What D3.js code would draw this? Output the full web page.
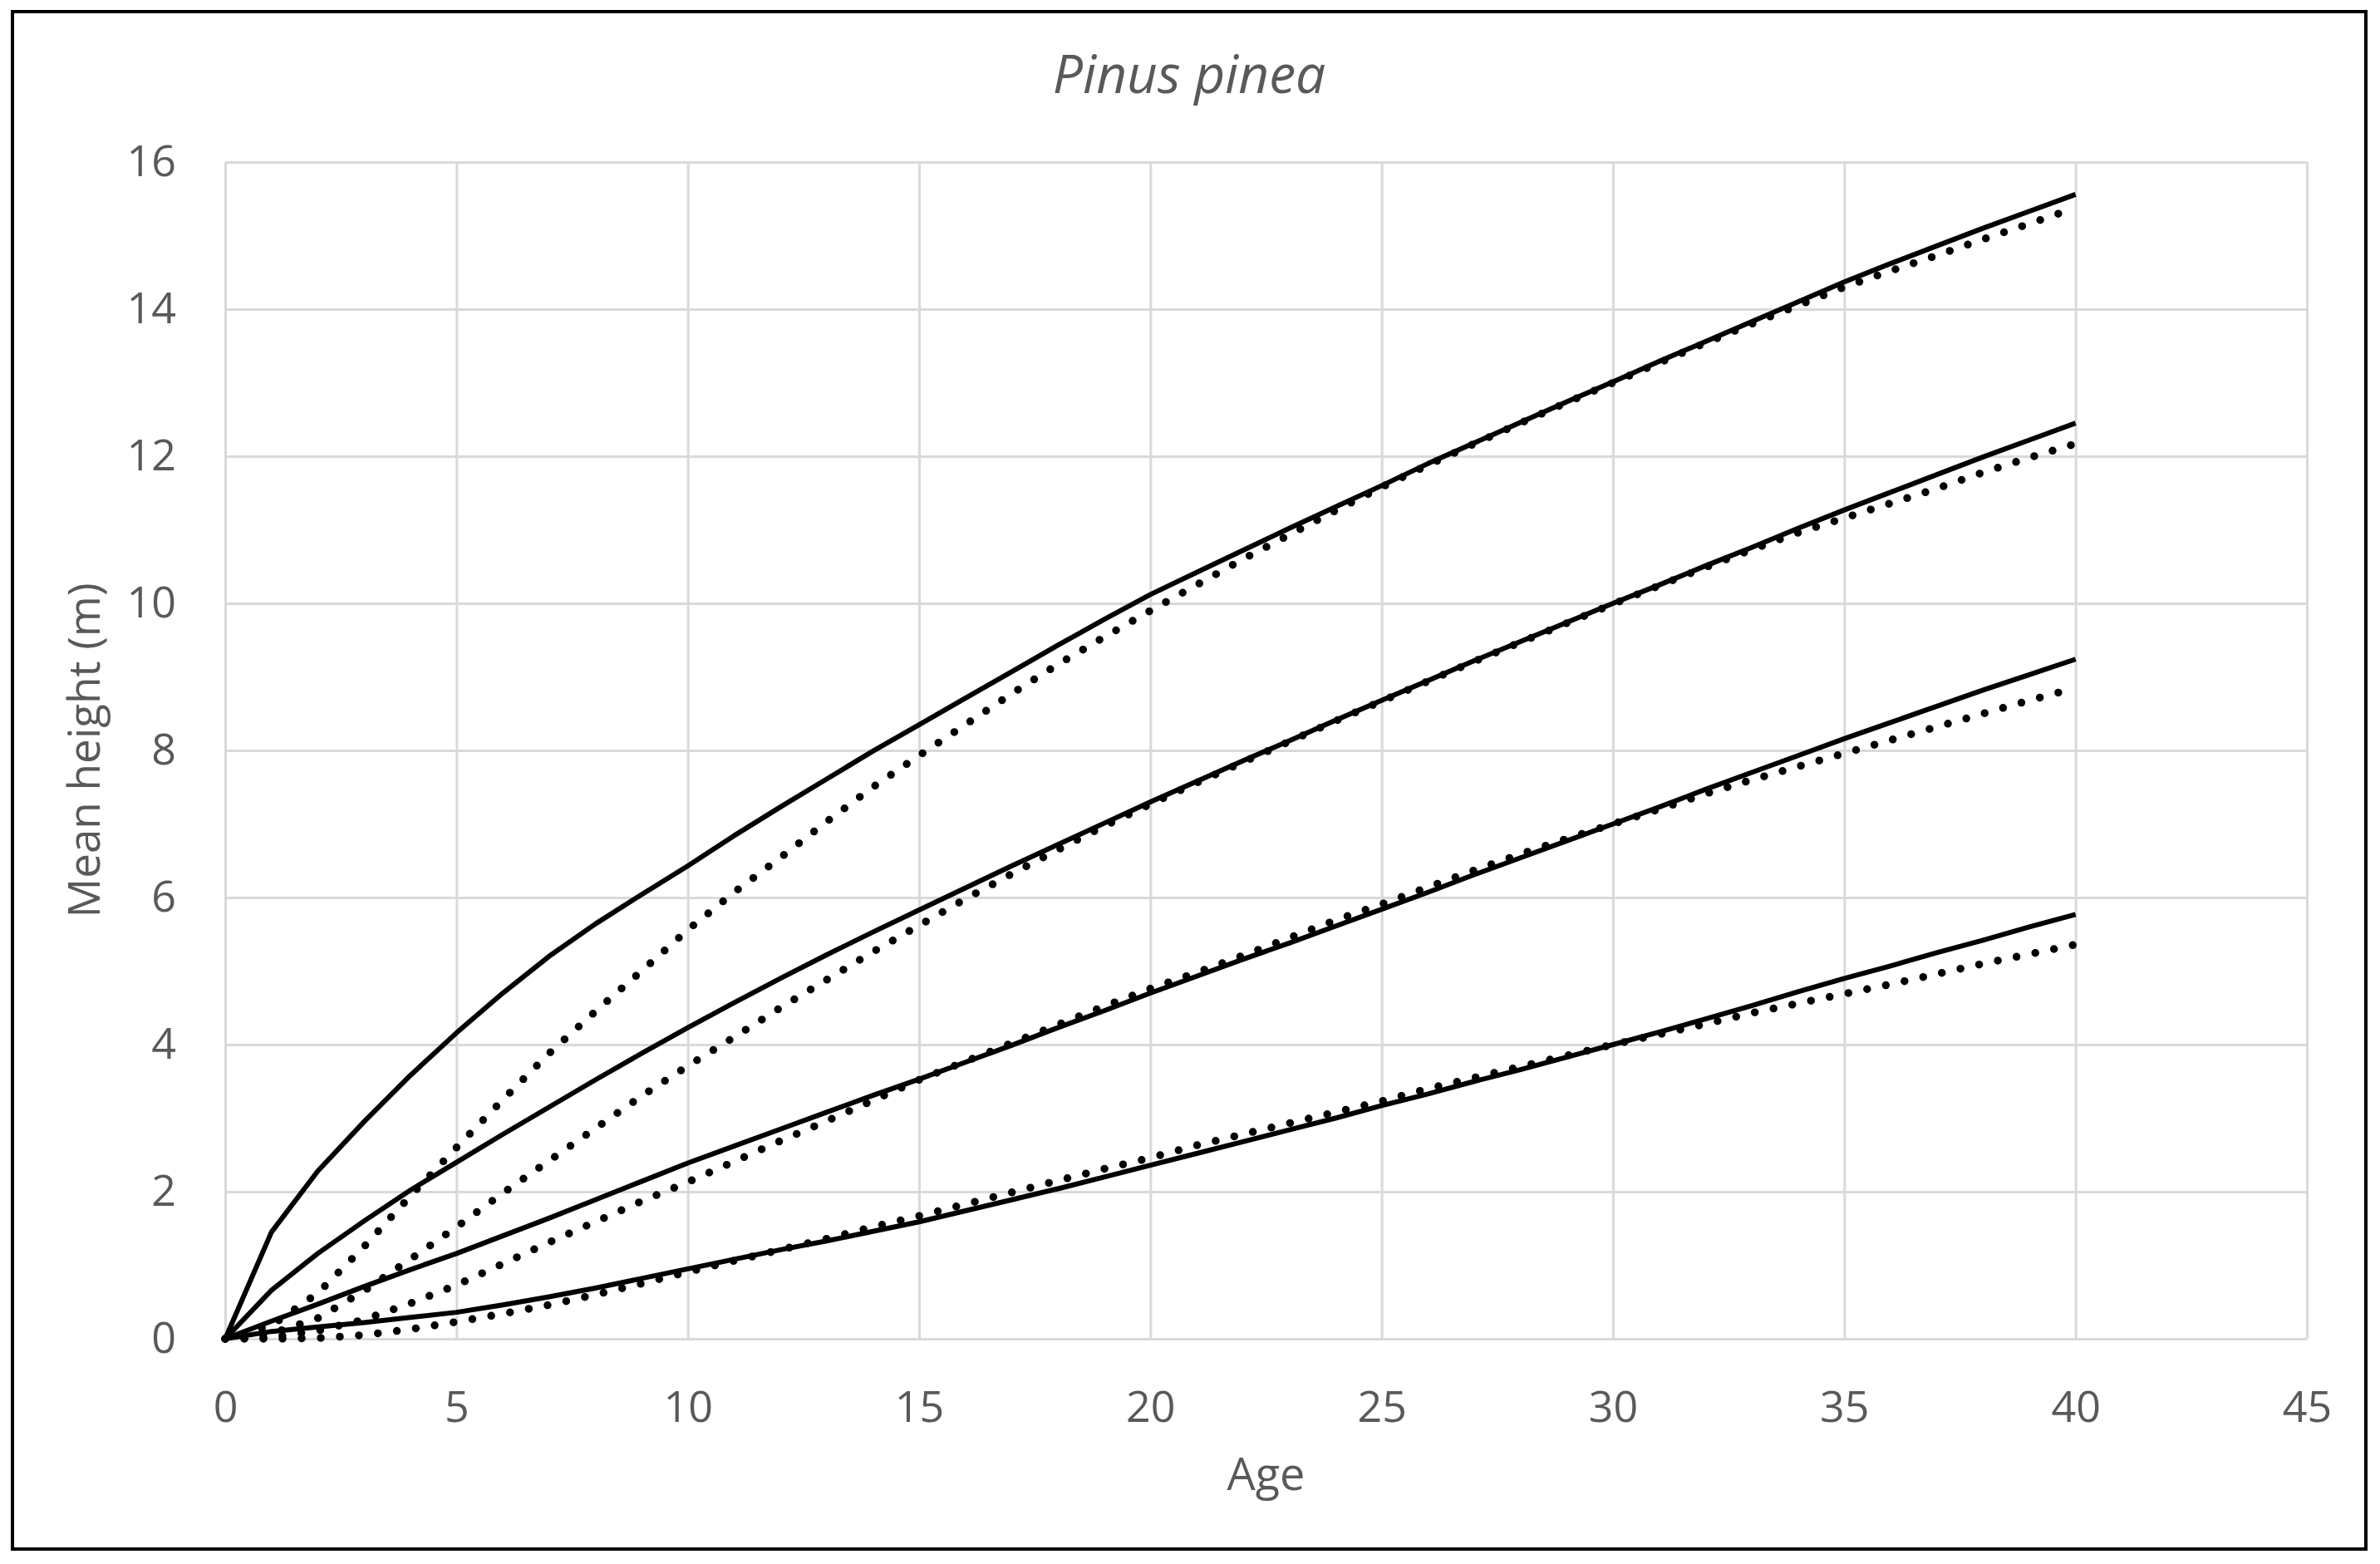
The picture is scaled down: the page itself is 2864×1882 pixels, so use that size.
<!DOCTYPE html>
<html>
<head>
<meta charset="utf-8">
<script src="https://cdn.jsdelivr.net/npm/d3@7"></script>
<style>
  html, body { margin: 0; padding: 0; background: #fff; }
  svg { display: block; }
  text { font-family: "Open Sans", "Noto Sans", sans-serif; fill: #595959; }
  .grid line { stroke: #d9d9d9; stroke-width: 3; }
</style>
</head>
<body>
<svg id="chart"></svg>
<script>
// ages (x categories)
const ages = [0, 1, 2, 3, 4, 5, 6, 7, 8, 9, 10, 11, 12, 13, 14, 15, 16, 17, 18, 19, 20,
  21, 22, 23, 24, 25, 26, 27, 28, 29, 30, 31, 32, 33, 34, 35, 36, 37, 38, 39, 40]

// solid curves, top to bottom
const solid1 = [0, 1.45, 2.28, 2.95, 3.58, 4.16, 4.7, 5.2, 5.64, 6.04, 6.43, 6.84, 7.23, 7.61, 7.99, 8.35, 8.71, 9.07, 9.43, 9.78, 10.12,
  10.42, 10.72, 11.02, 11.31, 11.6, 11.9, 12.18, 12.46, 12.74, 13.01, 13.29, 13.56, 13.83, 14.1, 14.37, 14.62, 14.86, 15.1, 15.33, 15.56]
const solid2 = [0, 0.66, 1.16, 1.6, 2.02, 2.4, 2.78, 3.15, 3.52, 3.88, 4.23, 4.57, 4.9, 5.22, 5.53, 5.83, 6.13, 6.43, 6.72, 7.01, 7.3,
  7.58, 7.86, 8.13, 8.41, 8.68, 8.95, 9.22, 9.48, 9.74, 10.0, 10.25, 10.51, 10.76, 11.02, 11.27, 11.51, 11.75, 11.99, 12.22, 12.45]
const solid3 = [0, 0.24, 0.47, 0.71, 0.94, 1.16, 1.4, 1.64, 1.89, 2.14, 2.39, 2.62, 2.85, 3.08, 3.31, 3.53, 3.76, 3.99, 4.23, 4.46, 4.7,
  4.93, 5.16, 5.38, 5.61, 5.84, 6.07, 6.31, 6.54, 6.77, 7.0, 7.23, 7.47, 7.7, 7.93, 8.16, 8.38, 8.6, 8.82, 9.03, 9.24]
const solid4 = [0, 0.1, 0.16, 0.22, 0.29, 0.36, 0.46, 0.57, 0.69, 0.82, 0.95, 1.08, 1.21, 1.33, 1.46, 1.59, 1.74, 1.89, 2.04, 2.2, 2.36,
  2.52, 2.68, 2.84, 3.0, 3.17, 3.33, 3.5, 3.66, 3.83, 4.0, 4.17, 4.35, 4.53, 4.72, 4.9, 5.07, 5.25, 5.42, 5.6, 5.77]

// dotted curves, top to bottom
const dotted1 = [0, 0.18, 0.62, 1.25, 1.94, 2.6, 3.25, 3.88, 4.45, 5.0, 5.56, 6.07, 6.54, 7.03, 7.5, 7.93, 8.35, 8.77, 9.17, 9.54, 9.9,
  10.25, 10.6, 10.93, 11.26, 11.58, 11.88, 12.17, 12.45, 12.73, 13.0, 13.27, 13.54, 13.8, 14.05, 14.3, 14.52, 14.73, 14.95, 15.16, 15.38]
const dotted2 = [0, 0.07, 0.28, 0.65, 1.08, 1.52, 1.98, 2.42, 2.86, 3.3, 3.71, 4.1, 4.5, 4.88, 5.26, 5.62, 5.98, 6.32, 6.65, 6.97, 7.27,
  7.56, 7.84, 8.12, 8.4, 8.67, 8.94, 9.21, 9.47, 9.73, 9.99, 10.24, 10.49, 10.73, 10.96, 11.16, 11.36, 11.56, 11.78, 11.98, 12.17]
const dotted3 = [0, 0.02, 0.11, 0.26, 0.48, 0.73, 1.02, 1.31, 1.59, 1.87, 2.13, 2.41, 2.69, 2.96, 3.24, 3.52, 3.77, 4.02, 4.27, 4.52, 4.76,
  4.98, 5.21, 5.45, 5.69, 5.91, 6.14, 6.37, 6.59, 6.8, 7.0, 7.2, 7.41, 7.6, 7.78, 7.96, 8.14, 8.32, 8.5, 8.68, 8.85]
const dotted4 = [0, 0, 0.01, 0.05, 0.13, 0.23, 0.34, 0.46, 0.6, 0.75, 0.91, 1.06, 1.21, 1.36, 1.52, 1.67, 1.83, 1.99, 2.15, 2.31, 2.46,
  2.63, 2.78, 2.93, 3.08, 3.23, 3.4, 3.55, 3.7, 3.85, 4.0, 4.14, 4.28, 4.43, 4.56, 4.69, 4.82, 4.96, 5.1, 5.23, 5.36]

const xTicks = [0, 5, 10, 15, 20, 25, 30, 35, 40, 45]
const yTicks = [0, 2, 4, 6, 8, 10, 12, 14, 16]

const title = "Pinus pinea"
const xTitle = "Age"
const yTitle = "Mean height (m)"

var W = 2864, H = 1882
var margin = { top: 195, right: 88, bottom: 271, left: 271 }
var width = W - margin.left - margin.right,
  height = H - margin.top - margin.bottom

var svg = d3.select("#chart")
  .attr("width", W)
  .attr("height", H)

// outer frame
svg.append("rect")
  .attr("x", 15).attr("y", 14)
  .attr("width", 2832).attr("height", 1850)
  .attr("fill", "none")
  .attr("stroke", "#000")
  .attr("stroke-width", 4)

var g = svg.append("g")
  .attr("transform", "translate(" + margin.left + "," + margin.top + ")")

var x = d3.scaleLinear().domain([0, 45]).range([0, width])
var y = d3.scaleLinear().domain([0, 16]).range([height, 0])

// gridlines + tick labels
g.append("g")
  .attr("class", "grid")
  .call(d3.axisLeft(y).tickValues(yTicks).tickSize(-width).tickPadding(59).tickFormat(d3.format("d")))
  .call(a => a.select(".domain").remove())
  .selectAll("text")
  .style("font-size", "52px")
  .attr("fill", "#595959")

g.append("g")
  .attr("class", "grid")
  .attr("transform", "translate(0," + height + ")")
  .call(d3.axisBottom(x).tickValues(xTicks).tickSize(-height).tickPadding(63).tickFormat(d3.format("d")))
  .call(a => a.select(".domain").remove())
  .selectAll("text")
  .style("font-size", "52px")
  .attr("fill", "#595959")

var line = d3.line()
  .x((d, i) => x(ages[i]))
  .y(d => y(d))

// dotted series
;[dotted1, dotted2, dotted3, dotted4].forEach(s => {
  g.append("path")
    .datum(s)
    .attr("d", line)
    .attr("fill", "none")
    .attr("stroke", "#000")
    .attr("stroke-width", 9.5)
    .attr("stroke-linecap", "round")
    .attr("stroke-dasharray", "0 23")
})

// solid series
;[solid1, solid2, solid3, solid4].forEach(s => {
  g.append("path")
    .datum(s)
    .attr("d", line)
    .attr("fill", "none")
    .attr("stroke", "#000")
    .attr("stroke-width", 6)
    .attr("stroke-linejoin", "round")
})

// titles
svg.append("text")
  .attr("x", 1431).attr("y", 112)
  .attr("text-anchor", "middle")
  .style("font-size", "64px")
  .style("font-style", "italic")
  .text(title)

svg.append("text")
  .attr("x", margin.left + width / 2).attr("y", 1793)
  .attr("text-anchor", "middle")
  .style("font-size", "54px")
  .text(xTitle)

svg.append("text")
  .attr("transform", "translate(120," + (margin.top + height / 2) + ") rotate(-90)")
  .attr("text-anchor", "middle")
  .style("font-size", "53px")
  .text(yTitle)
</script>
</body>
</html>
